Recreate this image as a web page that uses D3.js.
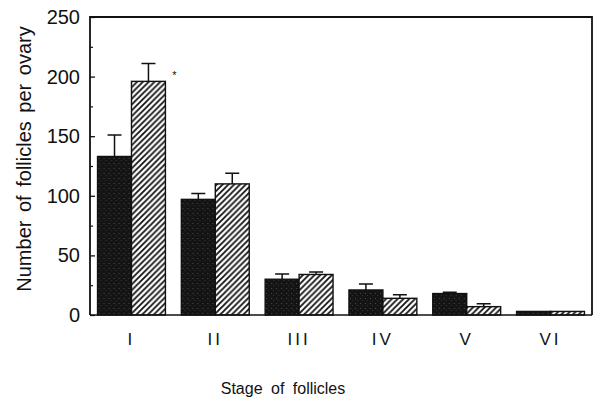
<!DOCTYPE html>
<html>
<head>
<meta charset="utf-8">
<script src="https://cdn.jsdelivr.net/npm/d3@7"></script>
<style>
  body { margin: 0; background: #fff; }
  svg { display: block; }
  text { font-family: "Liberation Sans", Arial, sans-serif; fill: #111; }
</style>
</head>
<body>
<div id="chart"></div>
<script>
// Stages of follicles and the two groups (solid / hatched)
const stages = ["I", "II", "III", "IV", "V", "VI"];
const solidValues = [133, 97, 30, 21, 18, 3];
const solidErrors = [18, 5, 4.5, 5, 1, 0.5];
const hatchedValues = [196, 110, 34, 14, 7, 3];
const hatchedErrors = [15, 9, 2, 3, 2.5, 0.5];
const yMajorTicks = [0, 50, 100, 150, 200, 250];
const yMinorTicks = [25, 75, 125, 175, 225];
const significant = ["I"];

const config = {
    width: 596,
    height: 406,
    margin: { top: 17, right: 4, bottom: 91, left: 90 }
};

const svg = d3.select("#chart").append("svg")
    .attr("width", config.width)
    .attr("height", config.height);

const width = config.width - config.margin.left - config.margin.right;
const height = config.height - config.margin.top - config.margin.bottom;

const defs = svg.append("defs");

// stippled black fill
const stipple = defs.append("pattern")
    .attr("id", "stipple")
    .attr("patternUnits", "userSpaceOnUse")
    .attr("width", 5)
    .attr("height", 5);
stipple.append("rect").attr("width", 5).attr("height", 5).attr("fill", "#141414");
stipple.append("rect").attr("x", 1).attr("y", 1).attr("width", 1).attr("height", 1).attr("fill", "#4a4a4a");
stipple.append("rect").attr("x", 3).attr("y", 3).attr("width", 1).attr("height", 1).attr("fill", "#333");

// diagonal hatching
const hs = 5.8;
const hatch = defs.append("pattern")
    .attr("id", "hatch")
    .attr("patternUnits", "userSpaceOnUse")
    .attr("width", hs)
    .attr("height", hs);
hatch.append("rect").attr("width", hs).attr("height", hs).attr("fill", "#fff");
hatch.append("path")
    .attr("d", `M-1,1 L1,-1 M0,${hs} L${hs},0 M${hs - 1},${hs + 1} L${hs + 1},${hs - 1}`)
    .attr("stroke", "#111")
    .attr("stroke-width", 1.8);

const chart = svg.append("g")
    .attr("transform", `translate(${config.margin.left},${config.margin.top})`);

const xScale = d3.scaleBand()
    .domain(stages)
    .range([0, width])
    .paddingInner(0.19)
    .paddingOuter(0.09);

const subScale = d3.scaleBand()
    .domain(["solid", "hatched"])
    .range([0, xScale.bandwidth()]);

const yScale = d3.scaleLinear()
    .domain([0, 250])
    .range([height, 0]);

const rows = stages.map((s, i) => ({
    stage: s,
    bars: [
        { key: "solid", value: solidValues[i], err: solidErrors[i] },
        { key: "hatched", value: hatchedValues[i], err: hatchedErrors[i] }
    ]
}));

// y axis, ticks pointing into the plot
const yAxis = d3.axisLeft(yScale)
    .tickValues(yMajorTicks)
    .tickSizeInner(-5)
    .tickSizeOuter(0)
    .tickPadding(10);

const yAxisG = chart.append("g").call(yAxis);
yAxisG.select(".domain").remove();
yAxisG.selectAll(".tick line").attr("stroke", "#111").attr("stroke-width", 1.3);
yAxisG.selectAll(".tick text")
    .style("font-family", "Liberation Sans, Arial, sans-serif")
    .style("font-size", "20px")
    .attr("fill", "#111");

const yMinor = chart.append("g").call(
    d3.axisLeft(yScale).tickValues(yMinorTicks).tickSizeInner(-3).tickSizeOuter(0).tickFormat("")
);
yMinor.select(".domain").remove();
yMinor.selectAll(".tick line").attr("stroke", "#111").attr("stroke-width", 1.2);

// bars
const groups = chart.selectAll(".group")
    .data(rows)
    .join("g")
    .attr("class", "group")
    .attr("transform", d => `translate(${xScale(d.stage)},0)`);

groups.selectAll(".bar")
    .data(d => d.bars)
    .join("rect")
    .attr("class", "bar")
    .attr("x", d => subScale(d.key))
    .attr("y", d => yScale(d.value))
    .attr("width", subScale.bandwidth())
    .attr("height", d => yScale(0) - yScale(d.value))
    .attr("fill", d => d.key === "solid" ? "url(#stipple)" : "url(#hatch)")
    .attr("stroke", "#111")
    .attr("stroke-width", 1.4);

// upper error bars
groups.selectAll(".err")
    .data(d => d.bars.filter(b => b.err > 0.6))
    .join("path")
    .attr("class", "err")
    .attr("d", d => {
        const cx = subScale(d.key) + subScale.bandwidth() / 2;
        const y0 = yScale(d.value);
        const y1 = yScale(d.value + d.err);
        return `M${cx},${y0}V${y1}M${cx - 7},${y1}H${cx + 7}`;
    })
    .attr("fill", "none")
    .attr("stroke", "#111")
    .attr("stroke-width", 1.5);

// significance mark
chart.selectAll(".star")
    .data(rows.filter(r => significant.includes(r.stage)))
    .join("text")
    .attr("class", "star")
    .attr("x", d => xScale(d.stage) + xScale.bandwidth() + 9)
    .attr("y", d => yScale(d.bars[1].value + d.bars[1].err) + 16)
    .style("font-size", "11px")
    .attr("text-anchor", "middle")
    .text("*");

// frame
chart.append("path")
    .attr("d", `M0,${height}V0H${width}V${height}`)
    .attr("fill", "none")
    .attr("stroke", "#111")
    .attr("stroke-width", 1.8);
chart.append("line")
    .attr("x1", 0).attr("x2", width)
    .attr("y1", height).attr("y2", height)
    .attr("stroke", "#111")
    .attr("stroke-width", 1.6);

// stage labels
chart.selectAll(".stage-label")
    .data(stages)
    .join("text")
    .attr("class", "stage-label")
    .attr("x", d => xScale(d) + xScale.bandwidth() / 2)
    .attr("y", height + 30)
    .attr("text-anchor", "middle")
    .style("font-size", "17px")
    .style("letter-spacing", "3px")
    .text(d => d);

// axis titles
svg.append("text")
    .attr("x", 283)
    .attr("y", 394)
    .attr("text-anchor", "middle")
    .style("font-size", "16px")
    .style("word-spacing", "4px")
    .text("Stage of follicles");

svg.append("text")
    .attr("transform", "translate(31,159) rotate(-90)")
    .attr("text-anchor", "middle")
    .style("font-size", "20px")
    .style("word-spacing", "3px")
    .text("Number of follicles per ovary");
</script>
</body>
</html>
